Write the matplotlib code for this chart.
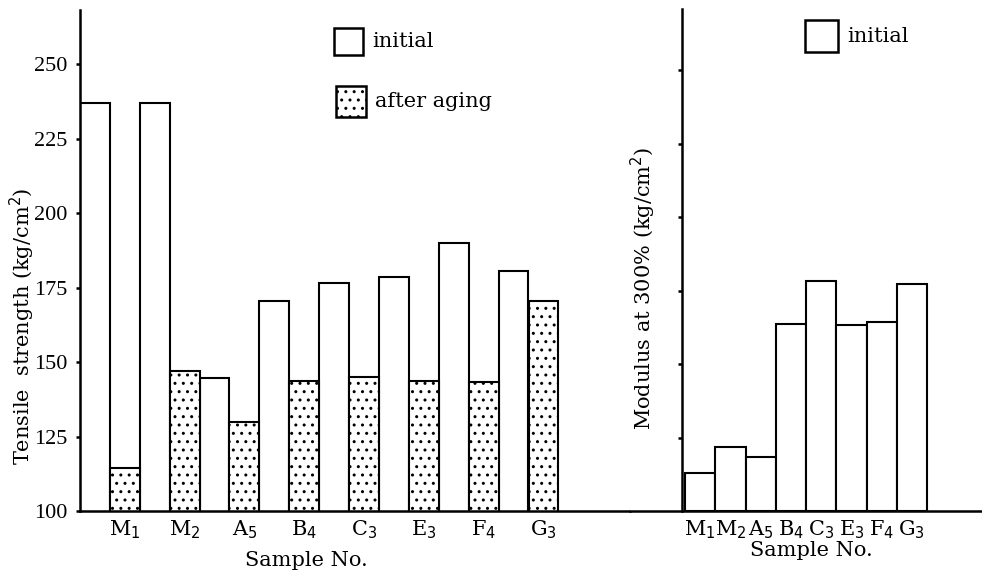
import numpy as np
import matplotlib
matplotlib.use('Agg')
import matplotlib.pyplot as plt
from matplotlib.patches import Rectangle

plt.rcParams['font.family'] = ['DejaVu Serif']
plt.rcParams['hatch.linewidth'] = 1.0

samples = ['M$_1$', 'M$_2$', 'A$_5$', 'B$_4$', 'C$_3$', 'E$_3$', 'F$_4$', 'G$_3$']
tensile_initial = [237, 237, 144.5, 170.5, 176.5, 178.5, 190, 180.5]
tensile_aged = [114.5, 147, 130, 143.7, 145, 143.6, 143.3, 170.5]
tensile_ticks = [100, 125, 150, 175, 200, 225, 250]
modulus_initial = [5.2, 8.7, 7.3, 25.4, 31.3, 25.3, 25.7, 30.9]
modulus_ticks = [10, 20, 30, 40, 50, 60]

W, H = 982, 572
fig = plt.figure(figsize=(W / 100, H / 100), dpi=100)
base = 511


def px_axes(x0, x1, y_top):
    return fig.add_axes([x0 / W, (H - base) / H, (x1 - x0) / W, (base - y_top) / H])


def style(ax):
    for s in ('top', 'right'):
        ax.spines[s].set_visible(False)
    ax.spines['left'].set_linewidth(1.8)
    ax.spines['bottom'].set_linewidth(1.8)
    ax.tick_params(axis='y', direction='out', length=3, width=1.8, pad=6)
    ax.tick_params(axis='x', length=0, pad=5)


def legend_box(bx, by, bw, bh, label, hatch=None):
    fig.add_artist(Rectangle((bx / W, (H - by - bh) / H), bw / W, bh / H,
                             transform=fig.transFigure, facecolor='white',
                             edgecolor='black', linewidth=1.8, hatch=hatch))
    fig.text((bx + bw + 9) / W, (H - by - bh / 2) / H, label, fontsize=15,
             va='center', ha='left')


# --- tensile strength, initial vs after aging ---
ax = px_axes(80, 630, 10)
style(ax)
n = len(samples)
pos = np.arange(n) * 2.0
ax.bar(pos + 0.5, tensile_initial, width=1.0, color='white',
       edgecolor='black', linewidth=1.5)
ax.bar(pos + 1.5, tensile_aged, width=1.0, color='white', edgecolor='black',
       linewidth=1.5, hatch='..')
ax.set_xlim(0, 550 / 29.9)
ax.set_ylim(100, 100 + (base - 10) / 2.98)
ax.set_yticks(tensile_ticks)
ax.set_yticklabels([str(t) for t in tensile_ticks], fontsize=16,
                   family='Liberation Serif')
ax.set_xticks(pos + 1.5)
ax.set_xticklabels(samples, fontsize=15)
fig.text(22 / W, (H - 326) / H, 'Tensile  strength (kg/cm$^2$)', fontsize=15,
         rotation=90, ha='center', va='center')
fig.text(306 / W, (H - 561) / H, 'Sample No.', fontsize=15,
         ha='center', va='center')

legend_box(334, 28, 29, 27, 'initial')
legend_box(336, 86, 30, 31, 'after aging', hatch='..')

# --- modulus at 300% ---
bw_px = 30.25
ax2 = px_axes(630, 982, 9)
style(ax2)
x_axis = (682 - 630) / bw_px
x_first = (685 - 630) / bw_px
xr = x_first + np.arange(n) + 0.5
ax2.bar(xr, modulus_initial, width=1.0, color='white', edgecolor='black',
        linewidth=1.5)
ax2.spines['left'].set_position(('data', x_axis))
ax2.set_xlim(0, 352 / bw_px)
ax2.set_ylim(0, (base - 9) / 7.35)
ax2.set_yticks(modulus_ticks)
ax2.set_yticklabels([])
ax2.set_xticks(xr)
ax2.set_xticklabels(samples, fontsize=15)
fig.text(811 / W, (H - 550) / H, 'Sample No.', fontsize=15,
         ha='center', va='center')
fig.text(643 / W, (H - 288) / H, 'Modulus at 300% (kg/cm$^2$)', fontsize=15,
         rotation=90, ha='center', va='center')

legend_box(805, 20, 33, 32, 'initial')

fig.savefig('out.png', dpi=100)
